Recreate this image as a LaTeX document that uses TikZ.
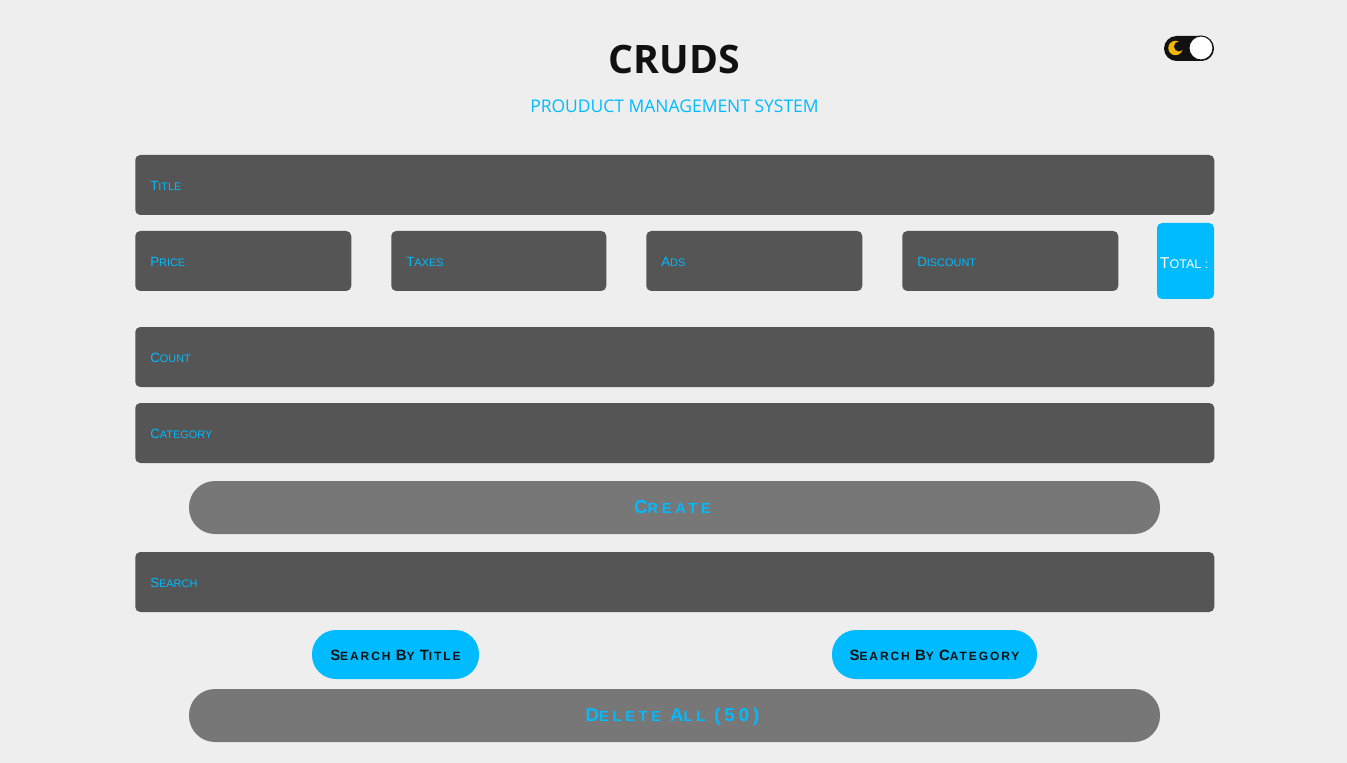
\documentclass[tikz,border=0pt]{standalone}
\usepackage{fontspec}
\setmainfont{Liberation Sans}
\newfontfamily\headfont{Open Sans}
\def\px{0.75pt}
\definecolor{pagegray}{HTML}{EEEEEE}
\definecolor{fieldgray}{HTML}{555555}
\definecolor{btngray}{HTML}{777777}
\definecolor{skyblue}{HTML}{00BBFF}
\definecolor{inkblack}{HTML}{111111}
\definecolor{moongold}{HTML}{F2B705}
% fake small caps: capital, then the small letters
\newcommand{\ph}[2]{{\fontsize{10pt}{12pt}\selectfont #1}{\fontsize{8.2pt}{12pt}\selectfont\MakeUppercase{#2}}}
\newcommand{\tl}[2]{{\fontsize{11.8pt}{14pt}\selectfont #1}{\fontsize{9.4pt}{14pt}\selectfont\MakeUppercase{#2}}}
\newcommand{\bt}[2]{{\fontsize{11.2pt}{12pt}\selectfont\addfontfeature{LetterSpace=16}#1}{\fontsize{9pt}{12pt}\selectfont\addfontfeature{LetterSpace=16}\MakeUppercase{#2}}}
\newcommand{\bg}[2]{{\fontsize{14pt}{14pt}\selectfont\addfontfeature{LetterSpace=21}#1}{\fontsize{11pt}{14pt}\selectfont\addfontfeature{LetterSpace=25}\MakeUppercase{#2}}}
\begin{document}
\begin{tikzpicture}[x=0.75pt,y=-0.75pt,
    field/.style={fill=fieldgray, text=skyblue, rounded corners=5*\px, anchor=west,
      minimum height=60*\px, inner xsep=15*\px, inner ysep=0pt, align=left,
      text height=8.7pt, text depth=0pt},
    widebtn/.style={fill=btngray, text=skyblue, rounded corners=26*\px, minimum width=971*\px,
      minimum height=53*\px, inner sep=0pt, text height=9pt, text depth=0pt, font=\bfseries},
    searchbtn/.style={fill=skyblue, text=inkblack, rounded corners=24*\px, minimum height=49*\px,
      inner sep=0pt, text height=9.3pt, text depth=0pt, font=\bfseries}]
    \fill[pagegray] (0,0) rectangle (1347,763);
    \useasboundingbox (0,0) rectangle (1347,763);

    \node [text=inkblack, font=\headfont\bfseries\fontsize{29.4pt}{36pt}\selectfont] (heading) at (674.5,59.7) {CRUDS};
    \node [text=skyblue, font=\headfont\fontsize{13.1pt}{16pt}\selectfont] (subheading) at (674.5,106) {PROUDUCT MANAGEMENT SYSTEM};

    \node [fill=inkblack, rounded corners=12.5*\px, minimum width=50*\px, minimum height=25*\px, inner sep=0pt] (switch) at (1189,48.5) {};
    \node [circle, fill=moongold, minimum size=14.5*\px, inner sep=0pt] (moon) at (1175.5,48) {};
    \node [circle, fill=inkblack, minimum size=10*\px, inner sep=0pt] (moonbite) at (1179,46.5) {};
    \node [circle, fill=white, draw=inkblack, line width=1*\px, minimum size=24*\px, inner sep=0pt] (knob) at (1201,48) {};

    \begin{scope}[every node/.style={field}]
      \node [text width=1049*\px] (title) at (135,185) {\ph{T}{itle}};
      \node [text width=186*\px] (price) at (135,261) {\ph{P}{rice}};
      \node [text width=185*\px] (taxes) at (391,261) {\ph{T}{axes}};
      \node [text width=186*\px] (ads) at (646,261) {\ph{A}{ds}};
      \node [text width=186*\px] (discount) at (902,261) {\ph{D}{iscount}};
      \node [text width=1049*\px] (count) at (135,357) {\ph{C}{ount}};
      \node [text width=1049*\px] (category) at (135,433) {\ph{C}{ategory}};
      \node [text width=1049*\px] (search) at (135,582) {\ph{S}{earch}};
    \end{scope}

    \node [fill=skyblue, text=white, rounded corners=5*\px, minimum width=57*\px, minimum height=76*\px,
      inner sep=0pt, text height=11pt, text depth=0pt] (total) at (1185.5,261) {\tl{T}{otal :}\kern2pt};

    \node [widebtn] (create) at (674.5,507.5) {\bg{C}{reate}\kern3pt};
    \node [searchbtn, minimum width=167*\px] (bytitle) at (395.5,654.5) {\bt{S}{earch }\bt{B}{y }\bt{T}{itle}};
    \node [searchbtn, minimum width=205*\px] (bycategory) at (934.5,654.5) {\bt{S}{earch }\bt{B}{y }\bt{C}{ategory}};
    \node [widebtn] (deleteall) at (674.5,715.5) {\bg{D}{elete }\hspace{1pt}\bg{A}{ll }\hspace{1pt}\bg{(50)}{}\kern3pt};
  \end{tikzpicture}
\end{document}
